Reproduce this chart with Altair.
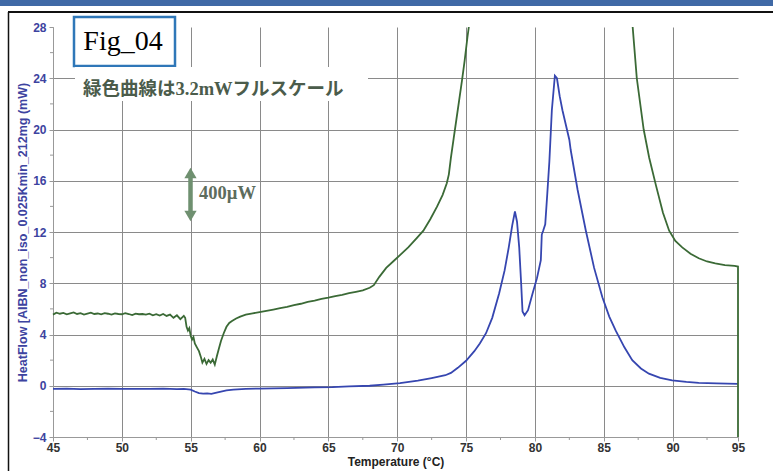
import altair as alt
import pandas as pd

# ---------------- data ----------------
# green curve (3.2 mW full scale), left part (goes off the top of the scale)
green_left_T = [45.0, 45.25, 45.5, 45.75, 46.0, 46.25, 46.5, 46.75, 47.0, 47.25, 47.5, 47.75,
                48.0, 48.25, 48.5, 48.75, 49.0, 49.25, 49.5, 49.75, 50.0, 50.25, 50.5, 50.75,
                51.0, 51.25, 51.5, 51.75, 52.0, 52.25, 52.5, 52.75, 53.0, 53.25, 53.5, 53.75,
                54.0, 54.25, 54.5, 54.6, 54.7, 54.8, 54.9, 55.0, 55.1, 55.2, 55.3, 55.45,
                55.6, 55.75, 55.85, 56.0, 56.15, 56.3, 56.45, 56.6, 56.75, 56.9, 57.05, 57.2,
                57.4, 57.6, 57.8, 58.0, 58.3, 58.6, 59.0, 59.5, 60.0, 60.5, 61.0, 61.5,
                62.0, 62.5, 63.0, 63.5, 64.0, 64.5, 65.0, 65.5, 66.0, 66.5, 67.0, 67.5,
                68.0, 68.3, 68.7, 69.2, 69.7, 70.2, 70.8, 71.4, 71.9, 72.4, 72.9, 73.3,
                73.6, 73.75, 73.9, 74.1, 74.3, 74.5, 74.7, 74.9, 75.1, 75.2]
green_left_V = [5.55, 5.70, 5.62, 5.68, 5.58, 5.65, 5.72, 5.60, 5.66, 5.55, 5.63, 5.70,
                5.60, 5.64, 5.57, 5.66, 5.62, 5.55, 5.65, 5.60, 5.58, 5.66, 5.60, 5.52,
                5.63, 5.58, 5.60, 5.55, 5.62, 5.50, 5.58, 5.48, 5.60, 5.45, 5.55, 5.30,
                5.50, 5.20, 5.45, 5.30, 4.60, 4.30, 4.50, 3.90, 3.60, 3.80, 3.30, 3.00,
                2.70, 2.20, 1.80, 2.10, 1.70, 2.00, 1.80, 2.05, 1.65, 2.30, 2.90, 3.50,
                4.10, 4.60, 4.90, 5.05, 5.25, 5.40, 5.55, 5.65, 5.75, 5.85, 5.95, 6.05,
                6.15, 6.30, 6.40, 6.55, 6.65, 6.78, 6.88, 7.00, 7.10, 7.22, 7.33, 7.45,
                7.65, 7.85, 8.50, 9.20, 9.70, 10.2, 10.8, 11.5, 12.1, 13.0, 14.0, 14.9,
                15.8, 16.5, 17.8, 19.3, 20.8, 22.3, 23.8, 25.4, 27.2, 28.0]
# green curve, right part (comes back down from the top), ends with the drop at 95 °C
green_right_T = [87.1, 87.4, 87.9, 88.3, 88.8, 89.3, 89.75, 90.2, 90.7, 91.3, 91.9, 92.5,
                 93.1, 93.8, 94.5, 94.75, 94.75]
green_right_V = [28.0, 24.0, 20.0, 17.8, 15.6, 13.5, 12.1, 11.3, 10.8, 10.3, 9.95, 9.7,
                 9.55, 9.42, 9.35, 9.30, -4.0]

# blue curve
blue_T = [45.0, 46.0, 47.0, 48.0, 49.0, 50.0, 51.0, 52.0, 53.0, 54.0, 54.5, 55.0, 55.3,
          55.6, 55.9, 56.2, 56.5, 56.8, 57.2, 57.6, 58.1, 59.0, 60.0, 62.0, 64.0, 65.3,
          66.5, 68.0, 69.0, 70.2, 71.5, 72.5, 73.5, 73.9, 74.4, 75.0, 75.6, 76.0, 76.45,
          76.9, 77.4, 77.8, 78.1, 78.35, 78.55, 78.7, 78.86, 79.0, 79.1, 79.25, 79.5,
          79.83, 80.15, 80.43, 80.5, 80.6, 80.75, 80.9, 81.05, 81.23, 81.45, 81.6, 81.8,
          82.0, 82.5, 82.6, 83.1, 83.7, 84.3, 84.9, 85.4, 85.87, 86.5, 87.07, 87.7,
          88.28, 89.1, 89.97, 91.0, 91.9, 93.2, 94.75]
blue_V = [-0.25, -0.22, -0.26, -0.24, -0.23, -0.25, -0.24, -0.25, -0.22, -0.26, -0.25, -0.30,
          -0.45, -0.58, -0.62, -0.60, -0.63, -0.55, -0.45, -0.36, -0.30, -0.25, -0.22, -0.18,
          -0.12, -0.10, -0.05, 0.0, 0.08, 0.20, 0.40, 0.60, 0.82, 1.0, 1.4, 1.95, 2.7, 3.3,
          4.1, 5.3, 7.2, 9.0, 10.8, 12.5, 13.6, 12.8, 10.8, 8.0, 5.8, 5.5, 5.9,
          7.2, 8.4, 9.8, 11.8, 12.1, 12.6, 15.0, 17.5, 21.5, 24.2, 24.0, 22.6,
          21.5, 19.2, 18.4, 15.3, 12.1, 9.2, 6.9, 5.4, 4.3, 3.0, 2.0, 1.35,
          0.94, 0.62, 0.42, 0.30, 0.23, 0.18, 0.15]

x_tick_values = [45, 50, 55, 60, 65, 70, 75, 80, 85, 90, 94.75]
x_minor_values = [47.5, 52.5, 57.5, 62.5, 67.5, 72.5, 77.5, 82.5, 87.5, 92.5]
y_tick_values = [-4, 0, 4, 8, 12, 16, 20, 24, 28]
y_minor_values = [-2, 2, 6, 10, 14, 18, 22, 26]

fig_label = "Fig_04"
note_label = "緑色曲線は3.2mWフルスケール"
scale_label = "400µW"
x_title = "Temperature (°C)"
y_title = "HeatFlow [AIBN_non_iso_0.025Kmin_212mg  (mW)"

# ---------------- tables ----------------
df_green = pd.DataFrame({
    "T": green_left_T + green_right_T,
    "V": green_left_V + green_right_V,
    "seg": ["a"] * len(green_left_T) + ["b"] * len(green_right_T),
})
df_green["i"] = range(len(df_green))
df_blue = pd.DataFrame({"T": blue_T, "V": blue_V})
df_blue["i"] = range(len(df_blue))
one = pd.DataFrame({"k": [0]})

# ---------------- style ----------------
W, H = 685, 410
BLUE = "#3646b0"
GREEN = "#3b6a36"
AXBLUE = "#3d43a0"
GRID = "#8a8a8a"

xscale = alt.Scale(domain=[45, 94.75], nice=False, zero=False)
yscale = alt.Scale(domain=[-4, 28], nice=False, zero=False)

x_axis = alt.Axis(
    values=x_tick_values, labelExpr="datum.value > 94 ? '95' : datum.label",
    title=x_title, grid=True, gridColor=GRID, gridWidth=1,
    gridOpacity={"condition": {"test": "datum.value > 94", "value": 0}, "value": 1},
    domainColor="#999999", tickColor="#999999", tickSize=4,
    labelFont="Liberation Sans", labelFontSize=12, labelFontWeight="bold",
    labelColor="#333333", labelPadding=1, labelFlush=False,
    titleFont="Liberation Sans", titleFontSize=12, titleFontWeight="bold",
    titleColor="#222222", titlePadding=3,
)
y_axis = alt.Axis(
    values=y_tick_values, title=y_title, grid=True, gridColor=GRID, gridWidth=1,
    gridOpacity={"condition": {"test": "datum.value > 27", "value": 0}, "value": 1},
    domainColor="#999999", tickColor="#999999", tickSize=4,
    labelFont="Liberation Sans", labelFontSize=12, labelFontWeight="bold",
    labelColor=AXBLUE, labelPadding=3,
    titleFont="Liberation Sans", titleFontSize=12.5, titleFontWeight="bold",
    titleColor=AXBLUE, titlePadding=3,
)

X = alt.X("T:Q", scale=xscale, axis=x_axis)
Y = alt.Y("V:Q", scale=yscale, axis=y_axis)

# ---------------- decorations (page frame) ----------------
band = alt.Chart(one).mark_rect(color="#3f69a6").encode(
    x=alt.value(-53), x2=alt.value(720), y=alt.value(-27), y2=alt.value(-21))
frame_top = alt.Chart(one).mark_rule(color="#111111", strokeWidth=2).encode(
    x=alt.value(-45), x2=alt.value(720), y=alt.value(-15))
frame_left = alt.Chart(one).mark_rule(color="#111111", strokeWidth=1.5).encode(
    x=alt.value(-44.5), y=alt.value(-15), y2=alt.value(444))

# minor ticks
df_ymin = pd.DataFrame({"V": y_minor_values})
df_xmin = pd.DataFrame({"T": x_minor_values})
ymin = alt.Chart(df_ymin).mark_rule(color="#999999").encode(
    y=Y, x=alt.value(-3), x2=alt.value(0))
xmin = alt.Chart(df_xmin).mark_rule(color="#999999").encode(
    x=X, y=alt.value(H), y2=alt.value(H + 3))

# ---------------- data lines ----------------
blue_line = alt.Chart(df_blue).mark_line(color=BLUE, strokeWidth=1.8).encode(
    x=X, y=Y, order="i:Q")
green_line = alt.Chart(df_green).mark_line(color=GREEN, strokeWidth=1.8).encode(
    x=X, y=Y, detail="seg:N", order="i:Q")

# ---------------- annotations ----------------
fig_box = alt.Chart(one).mark_rect(fill="white", stroke="#2f77b8", strokeWidth=2.5).encode(
    x=alt.value(21), x2=alt.value(122), y=alt.value(-10), y2=alt.value(39))
fig_text = alt.Chart(one).mark_text(
    text=fig_label, font="Liberation Serif", fontSize=28, color="#000000",
    align="center", baseline="alphabetic").encode(x=alt.value(70), y=alt.value(23))
note_bg = alt.Chart(one).mark_rect(fill="white").encode(
    x=alt.value(22), x2=alt.value(315), y=alt.value(40), y2=alt.value(74))
note_text = alt.Chart(one).mark_text(
    text=note_label, font="'Liberation Serif', 'Noto Sans CJK JP'", fontSize=18.5,
    fontWeight="bold", color="#4b5c4b", align="left", baseline="middle").encode(
    x=alt.value(30), y=alt.value(62))

ARROW = "#6f9070"
arrow_shaft = alt.Chart(one).mark_rule(color=ARROW, strokeWidth=4.5).encode(
    x=alt.value(137.5), y=alt.value(146), y2=alt.value(189))
arrow_up = alt.Chart(one).mark_point(shape="triangle-up", filled=True, size=150,
                                     color=ARROW, opacity=1).encode(
    x=alt.value(137.5), y=alt.value(146))
arrow_down = alt.Chart(one).mark_point(shape="triangle-down", filled=True, size=150,
                                       color=ARROW, opacity=1).encode(
    x=alt.value(137.5), y=alt.value(189))
scale_text = alt.Chart(one).mark_text(
    text=scale_label, font="Liberation Serif", fontSize=18.5, fontWeight="bold",
    color="#5d6c5d", align="left", baseline="middle").encode(
    x=alt.value(146), y=alt.value(166))

chart = alt.layer(
    band, frame_top, frame_left, ymin, xmin,
    blue_line, green_line,
    fig_box, fig_text, note_bg, note_text,
    arrow_shaft, arrow_up, arrow_down, scale_text,
).properties(
    width=W, height=H,
    autosize=alt.AutoSizeParams(type="none"),
    padding={"left": 53, "top": 27, "right": 35, "bottom": 34},
    background="white",
).configure_view(strokeWidth=0)

chart.save("out.html", embed_options={"renderer": "svg", "actions": False})
